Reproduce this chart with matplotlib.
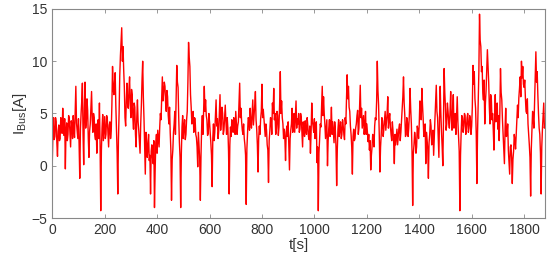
import numpy as np
import matplotlib.pyplot as plt

# bus current: one value every 5 s ...
t_step = 5
i_bus = [
    0.2, 4.6, 2.8, 4.2, 0.9, 3.9, 2.6, 4.4, 5.5, 2.9, -0.3, 4.1, 3.0, 4.5, 1.8, 3.8, 4.8, 2.7, 7.6, 3.4,
    4.5, -1.2, 5.0, 7.9, 0.1, 8.0, 4.2, 5.3, 0.8, 4.0, 7.1, 3.2, 4.6, 2.5, 1.2, 4.4, 6.0, -4.3, 3.6, 2.4,
    4.7, 3.0, 4.5, 1.8, 4.2, 3.3, 9.5, 6.8, 8.9, 3.5, -2.7, 5.0, 10.5, 13.2, 11.4, 7.5, 3.8, 7.9, 5.5, 8.5,
    4.6, 6.8, 3.5, 5.6, 1.8, 6.3, 3.4, 1.2, 5.8, 10.0, 4.5, -0.8, 2.4, 1.8, 0.5, -2.7, 2.0, 0.2, -4.0, 2.2,
    1.2, 2.6, 3.7, 4.4, 8.5, 7.0, 7.6, 5.2, 6.6, 4.0, 3.2, -3.3, 1.5, 4.0, 3.0, 9.6, 7.5, 2.3, -4.0, 3.7,
    2.6, 4.4, 3.0, 5.2, 11.8, 9.5, 5.6, 4.4, 3.2, 4.5, 2.7, -0.1, 2.0, -3.3, 3.7, 3.0, 7.6, 6.3, 4.4, 3.1,
    4.2, 2.2, -2.0, 4.0, 3.2, 6.3, 4.5, 3.3, 6.8, 4.4, 5.0, 3.4, 5.8, 3.0, 3.6, -2.7, 3.7, 4.4, 3.2, 4.1,
    5.2, 3.0, 4.2, 7.9, 5.5, 3.4, 4.0, 2.0, -3.7, 3.2, 4.5, 5.5, 3.6, 6.3, 4.8, 7.1, 3.5, -0.6, 3.8, 4.5,
    7.8, 5.4, 3.5, 4.0, 2.0, -1.6, 3.3, 4.5, 6.0, 7.4, 5.0, 3.5, 4.8, 3.7, 9.0, 6.2, 4.0, 3.5, 0.5, 3.8,
    4.2, -0.4, 3.4, 5.5, 4.0, 3.2, 6.2, 4.5, 5.0, 3.5, 4.6, 1.8, 3.6, 4.3, 3.0, 3.8, 2.5, 1.2, 6.0, 3.8,
    4.5, 3.2, 0.3, -4.3, 2.5, 3.7, 7.6, 6.6, 4.0, 3.5, 0.0, 3.6, 2.8, 5.6, 4.2, 2.2, 3.4, -1.9, 3.5, 2.8,
    4.2, 3.0, 3.8, 2.5, 4.0, 8.7, 7.6, 5.2, 3.0, -0.8, 3.5, 2.6, 4.0, 5.3, 3.6, 7.7, 5.5, 4.2, 3.0, 5.2,
    4.0, 2.3, 1.5, -0.4, 1.8, 2.6, 3.8, 4.4, 10.0, 5.8, -0.6, 3.0, 4.3, 3.5, 5.2, 4.2, 6.6, 4.5, 3.8, 2.4,
    3.3, 0.2, 2.0, 3.5, 2.8, 4.0, 3.2, 5.6, 8.5, 4.8, 3.0, 4.2, 3.6, 7.4, 4.0, -3.8, 2.0, 2.6, 1.8, 3.4,
    4.0, 5.5, 7.4, 4.5, 3.0, 0.2, 2.5, -1.2, 3.0, 3.8, 2.4, 1.0, 4.5, 7.7, 4.6, 0.8, 7.6, 3.2, 0.0, 9.3,
    5.6, 4.0, 5.2, 3.6, 7.1, 3.4, 6.8, 4.4, 3.0, 6.6, 2.8, -4.3, 3.2, 4.6, 3.8, 4.8, 3.5, 5.0, 3.6, 4.4,
    3.8, 9.6, 9.0, 5.5, -1.7, 6.0, 14.5, 11.4, 9.5, 6.3, 4.0, 7.2, 11.1, 8.0, 4.0, 6.5, 5.0, 1.5, 6.8, 5.0,
    3.5, 2.4, 9.3, 6.3, 3.0, 0.2, 5.5, 3.0, 1.5, -0.8, 2.0, -1.7, 1.4, 2.5, 3.0, 5.8, 6.5, 8.5, 10.0, 9.5,
    7.5, 6.5, 5.0, 4.0, 2.0, -2.9, 3.5, 4.5, 6.0, 10.9, 9.0, 5.0, 3.0, -2.7, 3.5, 6.0, 4.0,
]
# ... and the noise in between, read at the half steps (t + 2.5 s)
i_bus_half = [
    3.0, 2.5, 4.6, 2.2, 3.3, 2.4, 4.6, 3.1, 3.6, 4.5, 3.4, 2.4, 4.8, 3.1, 4.3, 2.6, 3.4, 5.2, 4.1, 2.6,
    2.0, 3.5, 6.2, 3.0, 5.5, 3.6, 6.4, 2.6, 3.3, 5.6, 4.4, 5.0, 2.9, 4.0, 3.0, 2.6, 2.0, 1.5, 4.9, 3.6,
    2.6, 4.8, 3.1, 3.9, 2.6, 5.8, 7.4, 8.0, 5.8, 1.2, 2.5, 8.6, 11.8, 10.0, 9.2, 4.6, 6.2, 6.0, 7.2, 5.8,
    7.3, 4.6, 6.0, 3.0, 4.6, 4.2, 2.2, 4.0, 8.2, 6.6, 1.8, 3.2, 0.8, 3.0, 1.0, 1.4, 0.8, 2.4, -0.5, 3.0,
    3.4, 1.8, 5.0, 6.6, 6.2, 8.0, 6.0, 7.2, 4.8, 5.6, 1.5, 0.6, 3.2, 5.2, 6.5, 8.0, 4.6, 0.8, 1.2, 4.8,
    3.8, 2.5, 4.4, 8.0, 10.4, 6.8, 4.0, 5.2, 4.6, 3.0, 1.8, 3.2, 0.6, 1.0, 4.8, 5.4, 5.2, 4.8, 2.9, 5.0,
    3.2, 1.0, 2.6, 2.4, 4.8, 3.8, 2.6, 5.0, 3.4, 5.6, 3.0, 4.6, 4.2, 4.6, 1.4, 2.0, 2.8, 3.6, 4.6, 3.0,
    4.0, 3.8, 6.0, 4.6, 4.2, 3.0, 2.6, 1.0, 1.6, 4.6, 3.4, 4.2, 5.0, 3.9, 5.8, 4.4, 2.0, 2.6, 3.0, 5.2,
    4.6, 4.5, 2.8, 3.4, 1.5, 2.4, 4.6, 3.0, 5.0, 4.4, 3.0, 5.2, 2.9, 6.0, 5.0, 4.6, 2.6, 2.6, 3.2, 2.8,
    2.0, 2.6, 4.0, 3.2, 5.0, 4.6, 3.6, 4.0, 3.2, 5.0, 3.2, 4.2, 2.8, 3.4, 4.6, 2.8, 3.8, 3.2, 4.2, 3.2,
    2.6, 4.2, 1.8, 1.2, 4.0, 5.5, 4.8, 5.0, 2.6, 4.4, 2.4, 4.4, 3.8, 3.0, 3.2, 4.2, 1.8, 1.6, 4.4, 3.6,
    2.6, 4.4, 3.0, 4.6, 6.2, 6.4, 5.6, 3.8, 1.8, 2.8, 2.4, 3.6, 4.8, 3.0, 5.6, 4.6, 3.6, 4.8, 3.8, 3.0,
    3.2, 3.0, 2.4, 1.0, 3.0, 1.8, 4.6, 6.2, 7.2, 3.0, 1.8, 4.6, 2.8, 4.4, 3.4, 5.0, 3.6, 5.0, 3.0, 4.2,
    2.2, 3.0, 2.8, 2.0, 3.6, 2.4, 4.4, 6.6, 6.0, 2.8, 4.6, 2.8, 5.0, 5.4, 1.4, 1.2, 3.2, 1.2, 3.8, 2.6,
    6.2, 4.4, 5.8, 2.8, 4.0, 3.2, 1.6, 2.2, 4.4, 2.0, 3.4, 2.8, 6.0, 5.2, 2.6, 4.6, 5.0, 1.8, 4.2, 7.0,
    3.4, 6.0, 4.2, 5.2, 4.6, 5.4, 3.6, 5.0, 4.8, 4.2, 1.4, 1.0, 4.8, 3.2, 5.0, 3.0, 4.6, 3.2, 4.8, 3.0,
    5.6, 7.8, 6.4, 3.0, 3.2, 9.0, 12.0, 9.0, 7.0, 8.2, 6.0, 9.0, 9.6, 5.6, 6.8, 4.4, 3.4, 4.6, 4.2, 6.0,
    4.8, 5.0, 7.0, 4.4, 1.8, 3.6, 2.8, 4.0, 0.4, 1.8, 0.8, 0.6, 3.0, 1.6, 4.4, 4.6, 7.4, 6.6, 8.4, 7.8,
    8.2, 5.2, 6.4, 3.0, 0.8, 1.6, 5.2, 3.6, 8.4, 8.0, 6.8, 3.6, 1.2, 1.8, 4.8, 3.6,
]

x_ticks = [0, 200, 400, 600, 800, 1000, 1200, 1400, 1600, 1800]
y_ticks = [-5, 0, 5, 10, 15]

# weave the two readings into one series
n = len(i_bus)
t = np.empty(2 * n - 1)
y = np.empty(2 * n - 1)
t[0::2] = np.arange(n) * t_step
t[1::2] = np.arange(n - 1) * t_step + t_step / 2
y[0::2] = i_bus
y[1::2] = i_bus_half

plt.rcParams["font.family"] = ["Liberation Sans", "DejaVu Sans"]

fig = plt.figure(figsize=(5.5, 2.63), dpi=100)
ax = fig.add_axes([0.095, 0.171, 0.896, 0.795])
ax.plot(t, y, color="#ff0000", linewidth=1.0)

ax.set_xlim(0, 1880)
ax.set_ylim(-5, 15)
ax.set_xticks(x_ticks)
ax.set_yticks(y_ticks)
ax.tick_params(direction="in", top=True, right=True, length=3, width=0.6,
               colors="#888888", labelcolor="#333333", labelsize=10)
for s in ax.spines.values():
    s.set_color("#888888")
    s.set_linewidth(0.8)

ax.set_xlabel("t[s]", fontsize=11, color="#333333", labelpad=1)
ax.set_ylabel("I$_{\\mathregular{Bus}}$[A]", fontsize=11, color="#333333", labelpad=2)

fig.savefig("out.png", dpi=100)
